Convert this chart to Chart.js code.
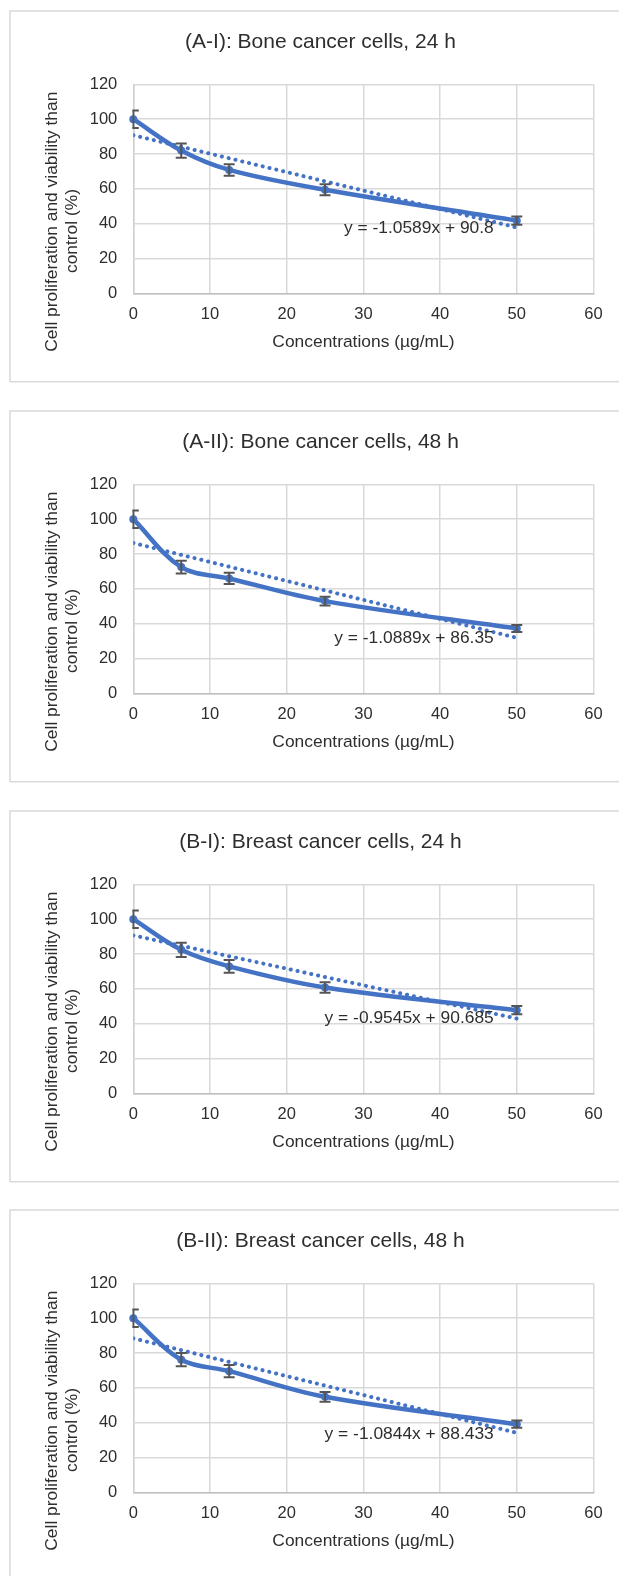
<!DOCTYPE html>
<html>
<head>
<meta charset="utf-8">
<script src="https://cdn.jsdelivr.net/npm/chart.js@4.4.0/dist/chart.umd.min.js"></script>
<style>
  html, body { margin: 0; padding: 0; background: #fff; overflow: hidden; }
  #wrap { position: relative; width: 619px; height: 1576px; overflow: hidden; }
  canvas { position: absolute; left: 0; }
</style>
</head>
<body>
<div id="wrap">
  <canvas id="c0" width="641" height="400" style="top:0px"></canvas>
  <canvas id="c1" width="641" height="400" style="top:400px"></canvas>
  <canvas id="c2" width="641" height="400" style="top:800px"></canvas>
  <canvas id="c3" width="641" height="400" style="top:1199px"></canvas>
</div>
<script>
// ---- data ----
const conc = [0, 6.25, 12.5, 25, 50];
const xTicks = [0, 10, 20, 30, 40, 50, 60];
const yTicks = [0, 20, 40, 60, 80, 100, 120];

const titles = [
  "(A-I): Bone cancer cells, 24 h",
  "(A-II): Bone cancer cells, 48 h",
  "(B-I): Breast cancer cells, 24 h",
  "(B-II): Breast cancer cells, 48 h"
];

const bone24 = [100, 82, 70.9, 59.5, 41.8];
const bone24Err = [5, 4.1, 3.3, 3.1, 2.4];
const bone48 = [100, 72.5, 66, 53, 37.3];
const bone48Err = [5, 3.6, 3.2, 2.5, 2];
const breast24 = [100, 82.4, 72.9, 60.8, 47.8];
const breast24Err = [5, 4.1, 3.7, 3, 2.4];
const breast48 = [100, 76.2, 69.6, 54.9, 39.2];
const breast48Err = [5, 3.8, 3.5, 2.8, 2.1];

// linear trendlines as printed on the chart
const slopes = [-1.0589, -1.0889, -0.9545, -1.0844];
const intercepts = [90.8, 86.35, 90.685, 88.433];
const equations = [
  "y = -1.0589x + 90.8",
  "y = -1.0889x + 86.35",
  "y = -0.9545x + 90.685",
  "y = -1.0844x + 88.433"
];
// where the equation label sits (right end, in axis units)
const eqX = [47, 47, 47, 47];
const eqY = [37.4, 31.6, 43, 33.7];

const xTitle = "Concentrations (µg/mL)";
const yTitleLines = ["Cell proliferation and viability than", "control (%)"];

// ---- styling ----
const FONT = '"Liberation Sans", Arial, sans-serif';
const TEXT = "#2e2e2e";
const BLUE = "#4472C4";
Chart.defaults.font.family = FONT;
Chart.defaults.color = TEXT;

// white background + chart frame (right side runs off the picture)
const frame = {
  id: "frame",
  beforeDraw(chart) {
    const ctx = chart.ctx;
    ctx.save();
    ctx.fillStyle = "#fff";
    ctx.fillRect(0, 0, chart.width, chart.height);
    ctx.strokeStyle = "#d9d9d9";
    ctx.lineWidth = 1.5;
    ctx.strokeRect(10, 11, chart.width, 370.7);
    ctx.restore();
  }
};

const errorBars = {
  id: "errorBars",
  afterDatasetsDraw(chart, args, opts) {
    const { ctx, chartArea, scales } = chart;
    const x = scales.x, y = scales.y;
    ctx.save();
    ctx.beginPath();
    ctx.rect(chartArea.left - 1, chartArea.top, chartArea.width + 2, chartArea.height);
    ctx.clip();
    ctx.strokeStyle = "#555";
    ctx.lineWidth = 2;
    opts.values.forEach((v, i) => {
      const px = x.getPixelForValue(conc[i]);
      const top = y.getPixelForValue(v + opts.err[i]);
      const bot = y.getPixelForValue(v - opts.err[i]);
      ctx.beginPath();
      ctx.moveTo(px, top); ctx.lineTo(px, bot);
      ctx.moveTo(px - 5.5, top); ctx.lineTo(px + 5.5, top);
      ctx.moveTo(px - 5.5, bot); ctx.lineTo(px + 5.5, bot);
      ctx.stroke();
    });
    ctx.restore();
  }
};

const eqLabel = {
  id: "eqLabel",
  afterDatasetsDraw(chart, args, opts) {
    const { ctx, scales } = chart;
    ctx.save();
    ctx.font = "17.4px " + FONT;
    ctx.fillStyle = TEXT;
    ctx.textAlign = "right";
    ctx.textBaseline = "middle";
    ctx.fillText(opts.text, scales.x.getPixelForValue(opts.x), scales.y.getPixelForValue(opts.y));
    ctx.restore();
  }
};

// two-line rotated y title, placed like the Excel one
const yTitle = {
  id: "yTitle",
  afterDraw(chart) {
    const ctx = chart.ctx;
    const spots = [[52.5, 221.7], [72.5, 231]];
    ctx.save();
    ctx.font = "17.4px " + FONT;
    ctx.fillStyle = TEXT;
    ctx.textAlign = "center";
    ctx.textBaseline = "middle";
    yTitleLines.forEach((line, i) => {
      ctx.save();
      ctx.translate(spots[i][0], spots[i][1]);
      ctx.rotate(-Math.PI / 2);
      ctx.fillText(line, 0, 0);
      ctx.restore();
    });
    ctx.restore();
  }
};

const panels = [
  { values: bone24, err: bone24Err },
  { values: bone48, err: bone48Err },
  { values: breast24, err: breast24Err },
  { values: breast48, err: breast48Err }
];

panels.forEach((p, k) => {
  const trend = [0, 50].map(x => ({ x: x, y: slopes[k] * x + intercepts[k] }));
  new Chart(document.getElementById("c" + k), {
    type: "line",
    data: {
      datasets: [
        {
          data: trend,
          borderColor: BLUE,
          borderWidth: 4,
          borderDash: [0.1, 6.9],
          borderCapStyle: "round",
          pointRadius: 0,
          tension: 0,
          fill: false
        },
        {
          data: conc.map((x, i) => ({ x: x, y: p.values[i] })),
          borderColor: BLUE,
          backgroundColor: BLUE,
          borderWidth: 4.5,
          borderCapStyle: "round",
          borderJoinStyle: "round",
          tension: 0.35,
          pointRadius: 4,
          pointBorderWidth: 0,
          pointBackgroundColor: BLUE,
          clip: 8,
          fill: false
        }
      ]
    },
    options: {
      responsive: false,
      animation: false,
      events: [],
      layout: { padding: { left: 10, right: 10, top: 11, bottom: 47.85 } },
      plugins: {
        legend: { display: false },
        tooltip: { enabled: false },
        title: {
          display: true,
          text: titles[k],
          color: TEXT,
          font: { size: 21, weight: "normal" },
          padding: { top: 18.4, bottom: 29.7 }
        },
        errorBars: { values: p.values, err: p.err },
        eqLabel: { text: equations[k], x: eqX[k], y: eqY[k] }
      },
      scales: {
        x: {
          type: "linear",
          min: 0,
          max: 60,
          afterBuildTicks: s => { s.ticks = xTicks.map(v => ({ value: v })); },
          afterFit: s => { s.height = 58.65; s.paddingLeft = 0; s.paddingRight = 47.5; },
          ticks: { color: TEXT, font: { size: 16.5 }, padding: 11, maxRotation: 0 },
          grid: { color: "#d9d9d9", lineWidth: 1.5, drawTicks: false },
          border: { display: true, color: "#bfbfbf", width: 1.5 },
          title: { display: true, text: xTitle, color: TEXT, font: { size: 17.4 }, padding: { top: 0, bottom: 0 } }
        },
        y: {
          min: 0,
          max: 120,
          afterBuildTicks: s => { s.ticks = yTicks.map(v => ({ value: v })); },
          afterFit: s => { s.width = 123.3; },
          ticks: { color: TEXT, font: { size: 16.5 }, padding: 16 },
          grid: { color: "#d9d9d9", lineWidth: 1.5, drawTicks: false },
          border: { display: true, color: "#d0d0d0", width: 1.5 }
        }
      }
    },
    plugins: [frame, errorBars, eqLabel, yTitle]
  });
});
</script>
</body>
</html>
